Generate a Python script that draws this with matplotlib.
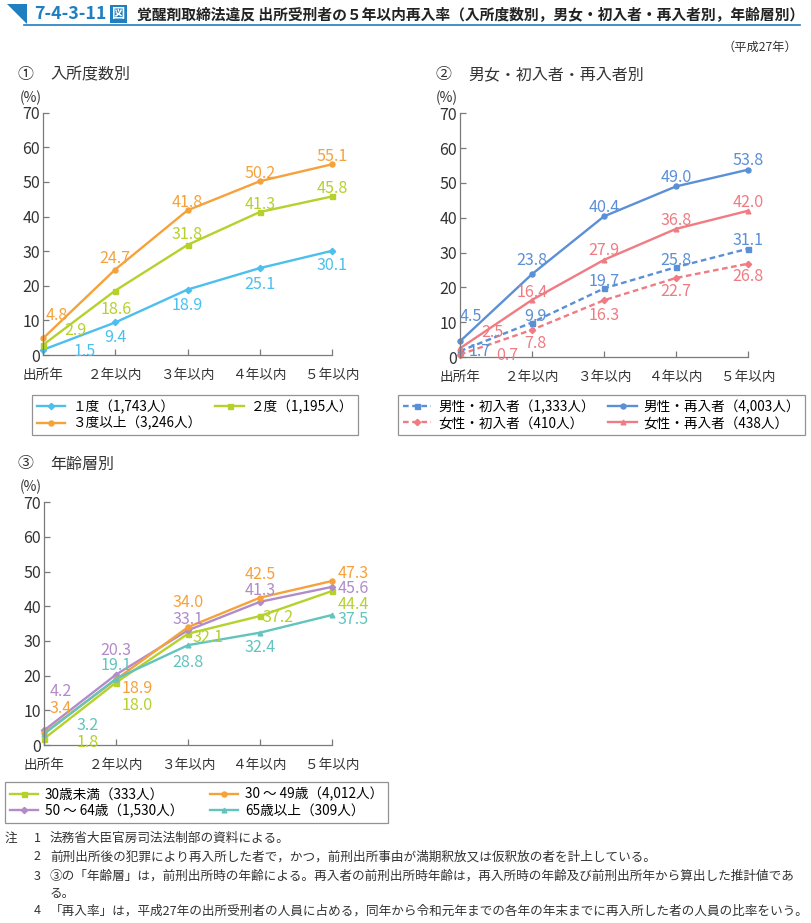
import matplotlib
matplotlib.use("Agg")
import matplotlib.pyplot as plt
from matplotlib.patches import Polygon
from matplotlib.lines import Line2D

plt.rcParams['font.family'] = ['Noto Sans CJK JP', 'DejaVu Sans']

# ---------------- data ----------------
categories = ['出所年', '２年以内', '３年以内', '４年以内', '５年以内']

# ① 入所度数別
p1_names = ['１度（1,743人）', '２度（1,195人）', '３度以上（3,246人）']
p1_once = [1.5, 9.4, 18.9, 25.1, 30.1]
p1_twice = [2.9, 18.6, 31.8, 41.3, 45.8]
p1_three = [4.8, 24.7, 41.8, 50.2, 55.1]

# ② 男女・初入者・再入者別
p2_names = ['男性・初入者（1,333人）', '女性・初入者（410人）',
            '男性・再入者（4,003人）', '女性・再入者（438人）']
p2_male_first = [1.7, 9.9, 19.7, 25.8, 31.1]
p2_female_first = [0.7, 7.8, 16.3, 22.7, 26.8]
p2_male_re = [4.5, 23.8, 40.4, 49.0, 53.8]
p2_female_re = [2.5, 16.4, 27.9, 36.8, 42.0]

# ③ 年齢層別
p3_names = ['30歳未満（333人）', '50 ～ 64歳（1,530人）',
            '30 ～ 49歳（4,012人）', '65歳以上（309人）']
p3_u30 = [1.8, 18.0, 32.1, 37.2, 44.4]
p3_30_49 = [3.4, 18.9, 34.0, 42.5, 47.3]
p3_50_64 = [4.2, 20.3, 33.1, 41.3, 45.6]
p3_65 = [3.2, 19.1, 28.8, 32.4, 37.5]

yticks = [0, 10, 20, 30, 40, 50, 60, 70]

# ---------------- style ----------------
W, H = 811, 923
C_LBLUE = '#4cbfee'
C_LIME = '#b5d12b'
C_ORANGE = '#f6a23b'
C_BLUE = '#5b8fd6'
C_PINK = '#ef7b83'
C_PURPLE = '#b28bc9'
C_TEAL = '#62c4bd'
C_AXIS = '#7a7a7a'
C_TXT = '#333333'
C_HEAD = '#1f7fbf'

fig = plt.figure(figsize=(W / 100, H / 100), dpi=100)
fig.patch.set_facecolor('white')


def fx(x):
    return x / W


def fy(y):
    return 1 - y / H


def make_axes(x0, x1, y0, y1):
    ax = fig.add_axes([fx(x0), fy(y0), (x1 - x0) / W, (y0 - y1) / H])
    ax.set_xlim(0, 4)
    ax.set_ylim(0, 70)
    for s in ['top', 'right']:
        ax.spines[s].set_visible(False)
    for s in ['left', 'bottom']:
        ax.spines[s].set_color(C_AXIS)
        ax.spines[s].set_linewidth(0.9)
    ax.set_yticks(yticks)
    ax.set_yticklabels([str(v) for v in yticks])
    ax.set_xticks(range(len(categories)))
    ax.set_xticklabels(categories)
    ax.tick_params(axis='y', direction='in', length=4.5, width=0.9, color=C_AXIS,
                   labelsize=11.5, labelcolor=C_TXT, pad=2)
    ax.tick_params(axis='x', direction='in', length=4.5, width=0.9, color=C_AXIS,
                   labelsize=9.8, labelcolor=C_TXT, pad=9)
    ax.patch.set_alpha(0)
    return ax


def plot_series(ax, vals, color, marker, ls='-', ms=3.6, label=None):
    x = list(range(len(vals)))
    ax.plot(x, vals, color=color, lw=1.7, ls=ls, marker=marker, ms=ms,
            mec=color, mfc=color, clip_on=False, label=label,
            dashes=(2.4, 1.5) if ls == '--' else (None, None))


def label_series(ax, vals, color, offsets):
    for i, (v, (dx, dy)) in enumerate(zip(vals, offsets)):
        ax.annotate(f'{v:.1f}', (i, v), xytext=(dx, dy), textcoords='offset pixels',
                    ha='center', va='center', fontsize=11.6, color=color,
                    annotation_clip=False)


def add_legend(ax, handles, labels, box):
    x0, y0, x1, y1 = box
    leg = ax.legend(handles, labels, ncol=2,
                    bbox_to_anchor=(fx(x0), fy(y1), (x1 - x0) / W, (y1 - y0) / H),
                    bbox_transform=fig.transFigure, loc='center', mode='expand',
                    borderaxespad=0, fontsize=9.8, frameon=True, fancybox=False,
                    edgecolor='#777777', handlelength=2.1, handletextpad=0.5,
                    labelspacing=0.15, borderpad=0.35, columnspacing=1.0)
    leg.get_frame().set_linewidth(0.9)
    return leg


# ---------------- header ----------------
fig.patches.append(Polygon([[fx(7), fy(4)], [fx(27), fy(4)], [fx(27), fy(24)]],
                           closed=True, transform=fig.transFigure,
                           facecolor=C_HEAD, edgecolor='none'))
fig.lines.append(Line2D([fx(24), fx(800)], [fy(25), fy(25)], transform=fig.transFigure,
                        color=C_HEAD, lw=1.2))
fig.text(fx(34), fy(14), '7-4-3-11', color=C_HEAD, fontsize=12.8, fontweight='bold',
         ha='left', va='center')
fig.text(fx(112), fy(14), '図', color='white', fontsize=9.5, fontweight='bold',
         ha='left', va='center',
         bbox=dict(boxstyle='square,pad=0.12', facecolor=C_HEAD, edgecolor='none'))
fig.text(fx(137), fy(14),
         '覚醒剤取締法違反 出所受刑者の５年以内再入率（入所度数別，男女・初入者・再入者別，年齢層別）',
         color='#222222', fontsize=10.65, fontweight='bold', ha='left', va='center')
fig.text(fx(797), fy(47), '（平成27年）', color=C_TXT, fontsize=8.8, ha='right', va='center')

# ---------------- panel titles ----------------
for (tx, ty, num, title) in [(18, 75, '①', '入所度数別'),
                             (436, 75, '②', '男女・初入者・再入者別'),
                             (18, 464, '③', '年齢層別')]:
    fig.text(fx(tx), fy(ty), num, fontsize=11.5, color=C_TXT, ha='left', va='center')
    fig.text(fx(tx + 32), fy(ty), title, fontsize=11.5, color=C_TXT, ha='left', va='center')

for (tx, ty) in [(31, 98), (447, 98), (31, 487)]:
    fig.text(fx(tx), fy(ty), '(%)', fontsize=10, color=C_TXT, ha='center', va='center')

# ---------------- panel 1 ----------------
ax1 = make_axes(43, 332, 355, 112.7)
plot_series(ax1, p1_once, C_LBLUE, 'D', ms=3.2, label=p1_names[0])
plot_series(ax1, p1_twice, C_LIME, 's', label=p1_names[1])
plot_series(ax1, p1_three, C_ORANGE, 'o', label=p1_names[2])
label_series(ax1, p1_three, C_ORANGE, [(14, 23), (0, 11), (0, 8), (0, 8), (0, 8)])
label_series(ax1, p1_twice, C_LIME, [(32, 14), (1, -19), (0, 10), (0, 8), (0, 8)])
label_series(ax1, p1_once, C_LBLUE, [(42, -2), (0, -15), (0, -16), (0, -16), (0, -15)])

h, l = ax1.get_legend_handles_labels()
order = [0, 2, 1]
add_legend(ax1, [h[i] for i in order], [l[i] for i in order], (32, 395, 358, 435))

# ---------------- panel 2 ----------------
ax2 = make_axes(460, 748, 357, 113.3)
plot_series(ax2, p2_male_first, C_BLUE, 's', ls='--', label=p2_names[0])
plot_series(ax2, p2_female_first, C_PINK, 'D', ls='--', ms=3.2, label=p2_names[1])
plot_series(ax2, p2_male_re, C_BLUE, 'o', label=p2_names[2])
plot_series(ax2, p2_female_re, C_PINK, '^', ms=3.4, label=p2_names[3])
label_series(ax2, p2_male_re, C_BLUE, [(11, 25), (0, 14), (0, 9), (0, 9), (0, 9)])
label_series(ax2, p2_female_re, C_PINK, [(32, 16), (0, 7), (0, 9), (0, 8), (0, 8)])
label_series(ax2, p2_male_first, C_BLUE, [(20, 0), (3, 6), (0, 7), (0, 7), (0, 8)])
label_series(ax2, p2_female_first, C_PINK, [(47, -1), (3, -14), (0, -15), (0, -14), (0, -13)])

h, l = ax2.get_legend_handles_labels()
add_legend(ax2, h, l, (398, 395, 805, 435))

# ---------------- panel 3 ----------------
ax3 = make_axes(44, 332, 745, 502.3)
plot_series(ax3, p3_u30, C_LIME, 's', label=p3_names[0])
plot_series(ax3, p3_50_64, C_PURPLE, 'D', ms=3.2, label=p3_names[1])
plot_series(ax3, p3_30_49, C_ORANGE, 'o', label=p3_names[2])
plot_series(ax3, p3_65, C_TEAL, '^', ms=3.4, label=p3_names[3])
label_series(ax3, p3_50_64, C_PURPLE, [(17, 39), (0, 24), (0, 11), (0, 11), (21, -2)])
label_series(ax3, p3_30_49, C_ORANGE, [(17, 25), (21, -9), (0, 25), (0, 23), (21, 8)])
label_series(ax3, p3_65, C_TEAL, [(44, 8), (0, 13), (0, -17), (0, -15), (21, -5)])
label_series(ax3, p3_u30, C_LIME, [(44, -4), (21, -23), (20, -4), (18, -1), (21, -13)])

h, l = ax3.get_legend_handles_labels()
add_legend(ax3, h, l, (5, 783, 388, 822))

# ---------------- notes ----------------
notes = [
    ('1', '法務省大臣官房司法法制部の資料による。'),
    ('2', '前刑出所後の犯罪により再入所した者で，かつ，前刑出所事由が満期釈放又は仮釈放の者を計上している。'),
    ('3', '③の「年齢層」は，前刑出所時の年齢による。再入者の前刑出所時年齢は，再入所時の年齢及び前刑出所年から算出した推計値であ'),
    ('', 'る。'),
    ('4', '「再入率」は，平成27年の出所受刑者の人員に占める，同年から令和元年までの各年の年末までに再入所した者の人員の比率をいう。'),
]
note_y = [838, 857, 876, 893, 911]
fig.text(fx(5), fy(note_y[0]), '注', fontsize=9.1, color=C_TXT, ha='left', va='center')
for (num, txt), y in zip(notes, note_y):
    if num:
        fig.text(fx(37), fy(y), num, fontsize=9.1, color=C_TXT, ha='center', va='center')
    fig.text(fx(50), fy(y), txt, fontsize=9.1, color=C_TXT, ha='left', va='center')

fig.savefig('out.png', dpi=100, facecolor='white')
